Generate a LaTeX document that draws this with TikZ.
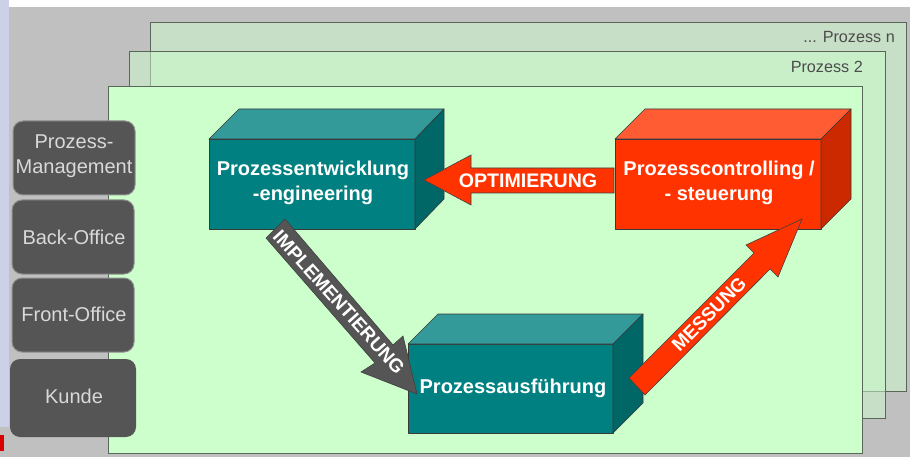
\documentclass[tikz,border=0pt]{standalone}
\usepackage{fontspec}
\setmainfont{Liberation Sans}
\definecolor{bggray}{HTML}{C0C0C0}
\definecolor{strip}{HTML}{CCD0E8}
\definecolor{mint}{HTML}{CCFFCC}
\definecolor{edge}{HTML}{5A665A}
\definecolor{tealF}{HTML}{008080}
\definecolor{tealT}{HTML}{339999}
\definecolor{tealS}{HTML}{006666}
\definecolor{redF}{HTML}{FF3300}
\definecolor{redT}{HTML}{FF5C33}
\definecolor{redS}{HTML}{CC2900}
\definecolor{slate}{HTML}{555555}
\tikzset{
  sheet/.style={draw=edge,line width=0.8pt,fill=mint},
  sheetback/.style={sheet,fill opacity=.5},
  sheetlabel/.style={text=black!70,font=\fontsize{16.2}{18}\selectfont,anchor=base east,inner sep=0pt},
  face/.style={draw=black!55!gray,line width=0.6pt,line join=round},
  boxlabel/.style={text=white,font=\bfseries\fontsize{20}{24.5}\selectfont,align=center,inner sep=0pt},
  rolebox/.style={rounded corners=10pt,fill=slate,draw=black!25!gray!70,line width=1pt},
  rolelabel/.style={text=white!85!black,font=\fontsize{20}{25}\selectfont,align=center,inner sep=0pt},
  blockarrow/.style={draw=black!50!gray,line width=0.6pt,line join=miter},
  arrowlabel/.style={text=white,font=\bfseries\fontsize{19.6}{22}\selectfont,inner sep=0pt},
  slantlabel/.style={arrowlabel,font=\bfseries\fontsize{19}{21}\selectfont},
}
\begin{document}
\begin{tikzpicture}[x=1pt,y=-1pt]
\useasboundingbox (0,0) rectangle (915,457);
% background
\fill[white] (0,0) rectangle (915,457);
\fill[bggray] (0,7) rectangle (910,457);
\fill[strip] (0,0) rectangle (9,427);
\fill[red!85!black] (0,435) rectangle (4,451);
% process sheets
\draw[sheetback] (150,22) rectangle (906,391);
\draw[sheetback] (129,51) rectangle (885,418);
\draw[sheet] (108,86) rectangle (862,453);
\node[sheetlabel] (pn) at (895,43) {... Prozess n};
\node[sheetlabel] (p2) at (863,73) {Prozess 2};
% role boxes
\draw[rolebox] (13,121) rectangle (135,195);
\node[rolelabel] (rm) at (74,156) {Prozess-\\Management};
\draw[rolebox] (12,200) rectangle (134,274);
\node[rolelabel] (rb) at (74,237) {Back-Office};
\draw[rolebox] (12,278) rectangle (134,352);
\node[rolelabel] (rf) at (74,314) {Front-Office};
\fill[slate,rounded corners=10pt] (10,359) rectangle (136,437);
\node[rolelabel] (rk) at (74,396) {Kunde};
% Prozessentwicklung box
\draw[face,fill=tealF] (209,139) rectangle (415,229);
\draw[face,fill=tealT] (209,139) -- (239,109) -- (444,109) -- (415,139) -- cycle;
\draw[face,fill=tealS] (415,139) -- (444,109) -- (444,199) -- (415,229) -- cycle;
\node[boxlabel] (entw) at (313,183) {Prozessentwicklung\\-engineering};
% Prozesscontrolling box
\draw[face,fill=redF] (615,139) rectangle (821,229);
\draw[face,fill=redT] (615,139) -- (645,109) -- (851,109) -- (821,139) -- cycle;
\draw[face,fill=redS] (821,139) -- (851,109) -- (851,199) -- (821,229) -- cycle;
\node[boxlabel] (ctrl) at (719,183) {Prozesscontrolling /\\- steuerung};
% Prozessausfuehrung box
\draw[face,fill=tealF] (408,344) rectangle (613,433);
\draw[face,fill=tealT] (408,344) -- (438,314) -- (643,314) -- (613,344) -- cycle;
\draw[face,fill=tealS] (613,344) -- (643,314) -- (643,403) -- (613,433) -- cycle;
\node[boxlabel] (ausf) at (513,388.5) {Prozessausführung};
% block arrows
\draw[blockarrow,fill=redF] (614,168) -- (471,168) -- (471,155) -- (424,180) -- (471,205) -- (471,193) -- (614,193) -- cycle;
\node[arrowlabel] (opt) at (528,181) {OPTIMIERUNG};
\draw[blockarrow,fill=slate] (285,219) -- (393,345) -- (403,336) -- (417,394) -- (361,372) -- (375,363) -- (266,238) -- cycle;
\node[slantlabel,rotate=-48] (impl) at (339,302) {IMPLEMENTIERUNG};
\draw[blockarrow,fill=redF] (629,378) -- (754,253) -- (746,245) -- (802,219) -- (778,277) -- (770,269) -- (645,395) -- cycle;
\node[slantlabel,rotate=45] (mess) at (709,314) {MESSUNG};
\end{tikzpicture}
\end{document}
